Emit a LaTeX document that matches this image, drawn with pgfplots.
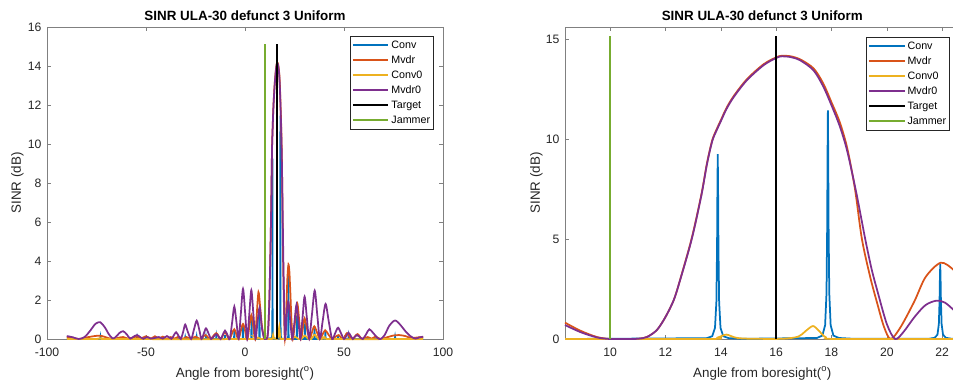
\documentclass[border=0pt]{standalone}
\usepackage{fontspec}
\setmainfont{Liberation Sans}
\usepackage{pgfplots}
\usepackage{pgfplotstable}
\pgfplotsset{compat=1.18}
\definecolor{cConv}{rgb}{0,0.447,0.741}
\definecolor{cMvdr}{rgb}{0.85,0.325,0.098}
\definecolor{cConvz}{rgb}{0.929,0.694,0.125}
\definecolor{cMvdrz}{rgb}{0.494,0.184,0.556}
\definecolor{cJam}{rgb}{0.466,0.674,0.188}

% Conv (blue)
\pgfplotstableread[row sep=\\]{
x y\\
-90 0\\ -73.15 0\\ -73 0.1\\ -72.85 0\\ -54.65 0\\ -54.5 0.08\\ -54.35 0\\
-30.35 0\\ -30.2 0.08\\ -30.05 0\\ -24.55 0\\ -24.4 0.1\\ -24.25 0\\
-19.85 0\\ -19.7 0.1\\ -19.55 0\\ -14.65 0\\ -14.5 0.12\\ -14.35 0\\
-10.25 0\\ -10.1 0.2\\ -9.95 0\\ -5.55 0\\ -5.4 0.4\\ -5.25 0\\
-1.15 0\\ -1.0 0.7\\ -0.85 0\\ 3.15 0\\ 3.3 1.1\\ 3.45 0\\
7.15 0\\ 7.3 1.4\\ 7.45 0\\ 8.37 0\\
13.49 0.04\\ 13.69 0.14\\ 13.79 0.55\\ 13.84 1.85\\ 13.865 4.6\\ 13.8775 7.4\\ 13.89 9.25\\
13.9025 7.4\\ 13.915 4.6\\ 13.94 1.85\\ 13.99 0.55\\ 14.09 0.14\\ 14.29 0.04\\ 14.8 0.01\\
17.47 0.05\\ 17.67 0.17\\ 17.77 0.69\\ 17.82 2.3\\ 17.845 5.7\\ 17.8575 9.2\\ 17.87 11.45\\
17.8825 9.2\\ 17.895 5.7\\ 17.92 2.3\\ 17.97 0.69\\ 18.07 0.17\\ 18.27 0.05\\ 18.8 0.01\\
21.53 0.015\\ 21.73 0.06\\ 21.83 0.22\\ 21.88 0.75\\ 21.905 1.9\\ 21.9175 3.0\\ 21.93 3.75\\
21.9425 3.0\\ 21.955 1.9\\ 21.98 0.75\\ 22.03 0.22\\ 22.13 0.06\\ 22.33 0.015\\ 22.63 0\\
26.05 0\\ 26.2 1.2\\ 26.35 0\\ 30.15 0\\ 30.3 0.8\\ 30.45 0\\
34.95 0\\ 35.1 0.55\\ 35.25 0\\ 40.45 0\\ 40.6 0.4\\ 40.75 0\\
46.85 0\\ 47 0.2\\ 47.15 0\\ 52.15 0\\ 52.3 0.12\\ 52.45 0\\
75.65 0\\ 75.8 0.1\\ 75.95 0\\ 90 0\\
}\tconv

% Mvdr (orange)
\pgfplotstableread[row sep=\\]{
x y\\
-90 0.1\\ -87 0.06\\ -84 0.0\\ -80 0.08\\ -76 0.15\\ -73 0.17\\ -70 0.08\\ -67 0.0\\
-64 0.06\\ -61.5 0.1\\ -59 0.02\\ -56.5 0.08\\ -54.5 0.12\\ -52.5 0.03\\ -50 0.14\\
-47.5 0.02\\ -45.5 0.14\\ -43.5 0.02\\ -41.5 0.12\\ -39.5 0.0\\ -37.5 0.1\\ -35.5 0.02\\
-33.5 0.12\\ -31.5 0.0\\ -29.5 0.1\\ -27.5 0.0\\ -25 0.12\\ -22.5 0.0\\ -20 0.2\\
-17.5 0.0\\ -14.5 0.3\\ -12.3 0.0\\ -10.1 0.35\\ -7.9 0.0\\ -5.4 0.5\\ -3.3 0.0\\
-1.0 0.77\\ 1.1 0.0\\ 2.15 0.62\\ 3.2 1.23\\ 4.2 0.62\\ 5.1 0.0\\ 5.9 1.2\\ 6.8 2.4\\
7.6 1.7\\ 8.37 0.82\\ 8.92 0.42\\ 9.52 0.1\\ 10.0 0.0\\ 10.5 0.0\\ 11.0 0.01\\ 11.33 0.1\\
11.69 0.45\\ 12.0 1.1\\ 12.3 1.95\\ 12.53 2.97\\ 12.95 5.05\\ 13.3 7.25\\ 13.5 8.8\\
13.69 9.95\\ 13.85 10.5\\ 14.0 10.95\\ 14.2 11.55\\ 14.46 12.15\\ 14.94 13.0\\ 15.54 13.75\\
16.0 14.1\\ 16.2 14.18\\ 16.5 14.16\\ 16.87 14.0\\ 17.35 13.55\\ 17.7 12.8\\ 18.0 11.85\\
18.3 10.85\\ 18.57 9.55\\ 18.85 7.5\\ 19.1 5.0\\ 19.4 3.1\\ 19.65 1.8\\ 19.9 0.6\\
20.14 0.0\\ 20.5 0.6\\ 21.0 1.9\\ 21.4 3.1\\ 21.95 3.82\\ 22.42 3.45\\
22.63 3.0\\ 22.9 2.4\\ 23.5 0.9\\ 24.2 0.0\\ 25.3 0.92\\ 26.4 1.83\\ 27.4 0.92\\ 28.3 0.0\\
29.2 0.53\\ 30.1 1.06\\ 31.3 0.53\\ 32.6 0.0\\ 33.8 0.33\\ 35.0 0.65\\ 36.4 0.33\\ 37.8 0.0\\
39.1 0.22\\ 40.5 0.45\\ 42.2 0.22\\ 44.0 0.0\\ 45.8 0.12\\ 47.3 0.2\\ 48.8 0.05\\ 50.0 0.05\\
51.5 0.3\\ 53.2 0.05\\ 54.5 0.02\\ 56.8 0.25\\ 58.8 0.02\\ 60.5 0.05\\ 62.0 0.1\\ 64.0 0.02\\
66.0 0.12\\ 68.5 0.0\\ 71.5 0.08\\ 75.0 0.18\\ 78.0 0.2\\ 81.0 0.15\\ 84.0 0.05\\ 87.0 0.08\\
90.0 0.1\\
}\tmvdr

% Conv0 (yellow)
\pgfplotstableread[row sep=\\]{
x y\\
-90 0\\ -75 0\\ -72 0.05\\ -69 0\\ 2 0\\ 5 0.1\\ 8 0\\ 8.37 0\\ 13.6 0\\ 13.9 0.08\\
14.2 0.22\\ 14.5 0.08\\ 14.9 0.02\\ 16.2 0.01\\ 16.8 0.12\\ 17.05 0.38\\ 17.33 0.65\\
17.55 0.4\\ 17.8 0.08\\ 18.2 0\\ 22.63 0\\ 23.5 0\\ 25.2 0.12\\ 27 0\\ 28.5 0\\ 30.2 0.18\\
32 0\\ 33.5 0\\ 35.2 0.22\\ 37 0\\ 38.8 0\\ 40.6 0.12\\ 42.5 0\\ 90 0\\
}\tconvz

% Mvdr0 (purple)
\pgfplotstableread[row sep=\\]{
x y\\
-90 0.15\\ -87 0.09\\ -84 0.0\\ -81 0.1\\ -78 0.45\\ -75.5 0.78\\ -73.1 0.86\\ -70.8 0.6\\
-68.8 0.25\\ -67 0.04\\ -65.5 0.08\\ -63.5 0.3\\ -61.6 0.4\\ -59.8 0.25\\ -58 0.02\\
-56.3 0.12\\ -54.5 0.2\\ -52.7 0.08\\ -51.3 0.01\\ -49.5 0.1\\ -47.5 0.02\\ -45.5 0.06\\
-43.5 0.1\\ -41.5 0.02\\ -39.4 0.15\\ -37.2 0.01\\ -36 0.18\\ -34.8 0.35\\ -33.5 0.15\\
-32.4 0.0\\ -31.2 0.38\\ -30.2 0.74\\ -29.0 0.4\\ -27.2 0.0\\ -25.8 0.48\\ -24.4 0.94\\
-23.1 0.48\\ -22.0 0.0\\ -20.8 0.28\\ -19.7 0.55\\ -18.4 0.28\\ -17.1 0.0\\ -15.8 0.13\\
-14.5 0.25\\ -13.3 0.12\\ -12.3 0.0\\ -11.2 0.22\\ -10.1 0.43\\ -8.9 0.22\\ -7.7 0.0\\
-6.5 0.85\\ -5.4 1.66\\ -4.3 0.85\\ -3.2 0.0\\ -2.1 1.3\\ -1.0 2.57\\ 0.1 1.3\\ 1.1 0.0\\
2.15 1.25\\ 3.2 2.5\\ 4.25 1.25\\ 5.3 0.0\\ 6.3 0.85\\ 7.4 1.62\\ 8.37 0.7\\ 8.92 0.35\\
9.52 0.08\\ 10.0 0.0\\ 10.5 0.0\\ 11.0 0.01\\ 11.33 0.1\\ 11.69 0.45\\ 12.0 1.1\\ 12.3 1.95\\
12.53 2.95\\ 12.95 5.0\\ 13.3 7.2\\ 13.5 8.75\\ 13.69 9.9\\ 13.85 10.45\\ 14.0 10.9\\
14.2 11.5\\ 14.46 12.1\\ 14.94 12.95\\ 15.54 13.7\\ 16.0 14.07\\ 16.2 14.15\\ 16.5 14.12\\
16.87 13.95\\ 17.35 13.45\\ 17.7 12.65\\ 18.0 11.7\\ 18.3 10.65\\ 18.57 9.4\\ 18.9 7.3\\
19.22 5.0\\ 19.45 3.5\\ 19.65 2.45\\ 20.0 0.75\\ 20.3 0.0\\ 20.6 0.35\\
21.0 1.1\\ 21.4 1.7\\ 21.8 1.92\\ 22.1 1.82\\ 22.42 1.45\\ 22.63 1.2\\ 22.9 0.85\\ 23.5 0.25\\
24.0 0.0\\ 25.0 0.88\\ 26.0 1.75\\ 27.0 0.88\\ 28.0 0.0\\ 29.05 1.08\\ 30.1 2.17\\
31.25 1.08\\ 32.4 0.0\\ 33.8 1.24\\ 35.2 2.48\\ 36.5 1.24\\ 37.8 0.0\\ 39.2 0.9\\ 40.7 1.8\\
42.3 0.9\\ 44.0 0.0\\ 45.5 0.29\\ 47.0 0.58\\ 48.5 0.29\\ 50.0 0.0\\ 51.2 0.16\\ 52.3 0.32\\
53.4 0.16\\ 54.5 0.0\\ 55.5 0.12\\ 56.5 0.2\\ 58.0 0.1\\ 59.5 0.0\\ 61.2 0.25\\ 62.8 0.5\\
64.8 0.3\\ 67.0 0.05\\ 68.5 0.0\\ 70.5 0.2\\ 73.0 0.7\\ 75.8 0.95\\ 78.5 0.72\\ 81.0 0.4\\
83.5 0.15\\ 86.0 0.02\\ 88.0 0.08\\ 90.0 0.12\\
}\tmvdrz

\pgfplotsset{
  scale only axis,
  clip=false,
  tick align=inside,
  major tick length=4bp,
  axis line style={black!50, line width=0.6bp},
  tick style={black!50, line width=0.6bp},
  tick label style={font=\fontsize{12.2bp}{14bp}\selectfont, text=black!85},
  /pgf/number format/assume math mode=true,
  xticklabel style={anchor=base, yshift=-17bp, inner sep=0pt},
  yticklabel style={anchor=east, inner sep=0pt, xshift=-5.3bp},
  legend cell align=left,
  legend image code/.code={\draw[#1, line width=2bp] (0bp,0bp) -- (35.7bp,0bp);},
  legend style={anchor=north east, draw=black!85, line width=0.6bp, fill=white,
    font=\fontsize{10.7bp}{12bp}\selectfont, inner xsep=1.5bp, inner ysep=1.5bp,
    row sep=0pt,
    nodes={inner xsep=2bp, inner ysep=2.5bp, text height=8bp, text depth=2bp}},
}
\newcommand{\lw}{1.75bp}
\newcommand{\plotall}{%
  \addplot[cConv, line width=\lw] table[x=x,y=y] {\tconv};
  \addplot[cMvdr, line width=\lw, smooth] table[x=x,y=y] {\tmvdr};
  \addplot[cConvz, line width=\lw, smooth] table[x=x,y=y] {\tconvz};
  \addplot[cMvdrz, line width=\lw, smooth] table[x=x,y=y] {\tmvdrz};
  \addplot[black, line width=\lw] coordinates {(16,0) (16,15.15)};
  \addplot[cJam, line width=\lw] coordinates {(10,0) (10,15.15)};
  \legend{Conv,Mvdr,Conv0,Mvdr0,Target,Jammer}
}

\begin{document}
\begin{tikzpicture}
\begin{axis}[
  at={(47bp,44bp)}, anchor=south west,
  width=396bp, height=312bp,
  xmin=-100, xmax=100, ymin=0, ymax=16,
  xtick={-100,-50,0,50,100}, ytick={0,2,4,6,8,10,12,14,16},
  title={SINR ULA-30 defunct 3 Uniform},
  every axis title/.style={at={(axis description cs:0.5,1.0202)}, anchor=base,
    font=\bfseries\fontsize{13.4bp}{16bp}\selectfont},
  xlabel={Angle from boresight(\textsuperscript{o})},
  ylabel={SINR (dB)},
  every axis x label/.style={at={(axis description cs:0.5,-0.1218)}, anchor=base,
    font=\fontsize{13.4bp}{16bp}\selectfont, text=black!85},
  every axis y label/.style={at={(axis description cs:-0.0657,0.5)}, rotate=90, anchor=base,
    font=\fontsize{13.4bp}{16bp}\selectfont, text=black!85},
  legend style={at={(axis description cs:0.977,0.97115)}},
]
\plotall
\end{axis}
\begin{axis}[
  at={(565bp,44bp)}, anchor=south west,
  width=394.6bp, height=312bp,
  xmin=8.37, xmax=22.63, ymin=0, ymax=15.62,
  restrict x to domain=8.37:22.63,
  xtick={10,12,14,16,18,20,22}, ytick={0,5,10,15},
  title={SINR ULA-30 defunct 3 Uniform},
  every axis title/.style={at={(axis description cs:0.5,1.0224)}, anchor=base,
    font=\bfseries\fontsize{13.4bp}{16bp}\selectfont},
  xlabel={Angle from boresight(\textsuperscript{o})},
  ylabel={SINR (dB)},
  every axis x label/.style={at={(axis description cs:0.5,-0.1218)}, anchor=base,
    font=\fontsize{13.4bp}{16bp}\selectfont, text=black!85},
  every axis y label/.style={at={(axis description cs:-0.0634,0.5)}, rotate=90, anchor=base,
    font=\fontsize{13.4bp}{16bp}\selectfont, text=black!85},
  legend style={at={(axis description cs:0.9757,0.96795)}},
]
\plotall
\end{axis}
\pgfresetboundingbox
\useasboundingbox (0,0) rectangle (953bp,383bp);
\end{tikzpicture}
\end{document}
